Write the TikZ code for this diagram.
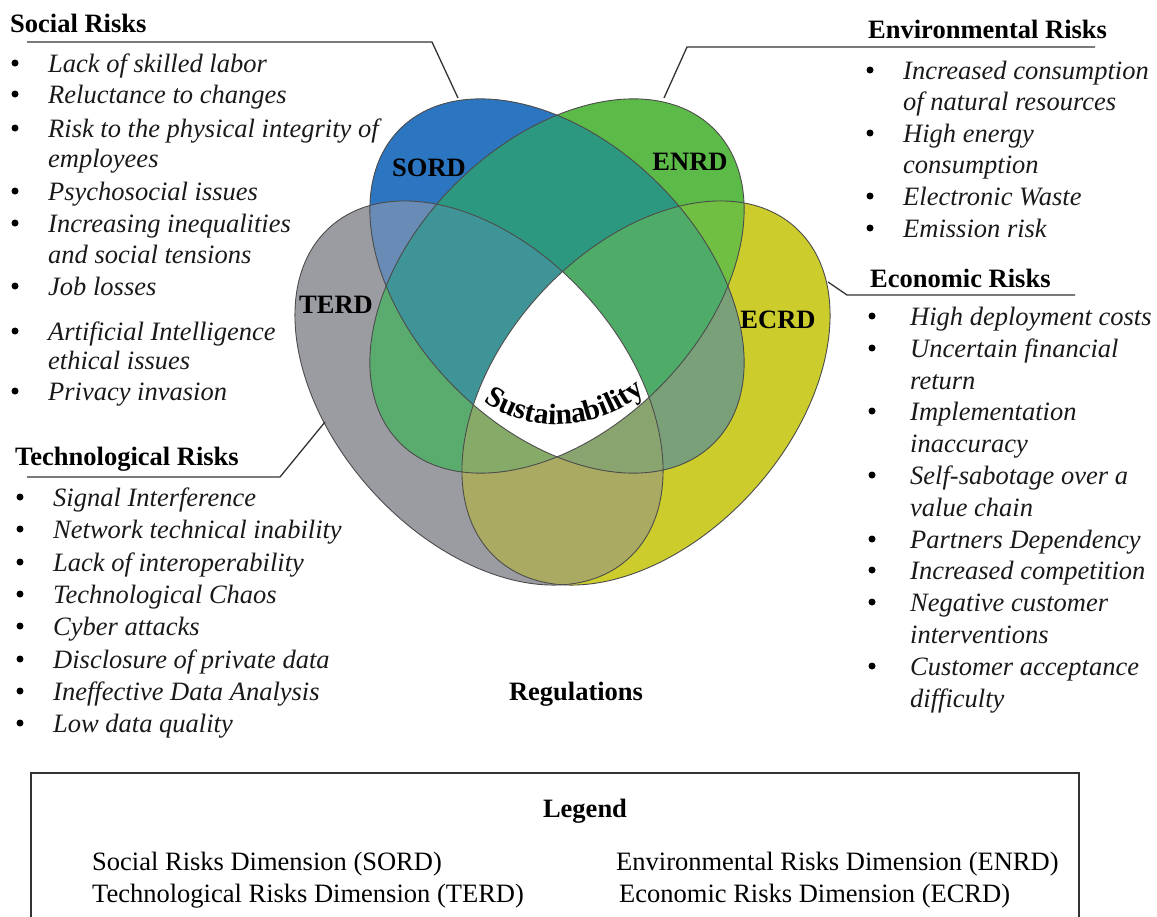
\documentclass[tikz,border=0pt]{standalone}
\usepackage{fontspec}
\setmainfont{Liberation Serif}
\usetikzlibrary{decorations.text}
\newcommand\fs{\fontsize{26.5}{31}\selectfont}
\definecolor{cS}{RGB}{44,117,192}
\definecolor{cE}{RGB}{92,186,72}
\definecolor{cT}{RGB}{155,156,161}
\definecolor{cC}{RGB}{204,204,44}
\definecolor{cSE}{RGB}{44,152,128}
\definecolor{cST}{RGB}{104,140,182}
\definecolor{cSC}{RGB}{122,160,122}
\definecolor{cTE}{RGB}{90,172,110}
\definecolor{cTC}{RGB}{170,170,98}
\definecolor{cEC}{RGB}{112,190,66}
\definecolor{cSTE}{RGB}{62,148,150}
\definecolor{cSEC}{RGB}{78,172,104}
\definecolor{cSTC}{RGB}{138,164,112}
\definecolor{cTEC}{RGB}{134,170,104}
\newcommand\ellS[1]{\path[#1,rotate around={-45:(557,286)}] (557,286) ellipse [x radius=222,y radius=144];}
\newcommand\ellE[1]{\path[#1,rotate around={45:(557,286)}] (557,286) ellipse [x radius=222,y radius=144];}
\newcommand\ellT[1]{\path[#1,rotate around={-48:(479,393)}] (479,393) ellipse [x radius=223,y radius=145];}
\newcommand\ellC[1]{\path[#1,rotate around={48:(646,393)}] (646,393) ellipse [x radius=223,y radius=145];}
\tikzset{
  item/.style={anchor=base west, inner sep=0pt, font=\fs\itshape, text=black!90},
  head/.style={anchor=base west, inner sep=0pt, font=\fs\bfseries},
  lbl/.style={inner sep=0pt, font=\fs\bfseries},
  legtext/.style={anchor=base west, inner sep=0pt, font=\fs},
  dot/.style={circle, fill=black, inner sep=0pt, minimum size=7pt},
  lead/.style={draw=black!80, line width=1.3pt},
  venn/.style={draw=black!70, line width=0.9pt}
}
\begin{document}
\begin{tikzpicture}[x=1pt,y=-1pt]
\useasboundingbox (0,0) rectangle (1157,916);
% ---- Venn fills ----
\ellT{fill=cT}
\ellC{fill=cC}
\ellS{fill=cS}
\ellE{fill=cE}
\begin{scope}\ellS{clip}\ellT{fill=cST}\end{scope}
\begin{scope}\ellS{clip}\ellE{fill=cSE}\end{scope}
\begin{scope}\ellS{clip}\ellC{fill=cSC}\end{scope}
\begin{scope}\ellT{clip}\ellE{fill=cTE}\end{scope}
\begin{scope}\ellT{clip}\ellC{fill=cTC}\end{scope}
\begin{scope}\ellE{clip}\ellC{fill=cEC}\end{scope}
\begin{scope}\ellS{clip}\ellT{clip}\ellE{fill=cSTE}\end{scope}
\begin{scope}\ellS{clip}\ellE{clip}\ellC{fill=cSEC}\end{scope}
\begin{scope}\ellS{clip}\ellT{clip}\ellC{fill=cSTC}\end{scope}
\begin{scope}\ellT{clip}\ellE{clip}\ellC{fill=cTEC}\end{scope}
\begin{scope}\ellS{clip}\ellT{clip}\ellE{clip}\ellC{fill=white}\end{scope}
\ellT{venn}
\ellC{venn}
\ellS{venn}
\ellE{venn}
% ---- Venn labels ----
\node[lbl] (sord) at (429,168) {SORD};
\node[lbl] (enrd) at (690,162) {ENRD};
\node[lbl] (terd) at (336,305) {TERD};
\node[lbl] (ecrd) at (778,320) {ECRD};
\path[decorate, decoration={text along path, text align=center,
  text={|\fontsize{29.5}{30}\selectfont\bfseries|Sustainability}}]
  (472,392) .. controls (523,438) and (603,436) .. (656,382);
\node[anchor=base, inner sep=0pt, font=\fs\bfseries] (reg) at (576,700) {Regulations};
% ---- Social ----
\node[head] (socH) at (10,32) {Social Risks};
\coordinate (socL) at (27,42);
\coordinate (socK) at (432,42);
\coordinate (socA) at (458,98);
\draw[lead] (socL) -- (socK) -- (socA);
\foreach \y/\t [count=\i] in {72/Lack of skilled labor,103/Reluctance to changes,137/Risk to the physical integrity of,200/Psychosocial issues,232/Increasing inequalities,295/Job losses,340/Artificial Intelligence,400/Privacy invasion}
  {\node[dot] (socD\i) at (15,\y-9) {}; \node[item] (socI\i) at (48,\y) {\t};}
\node[item] (socC1) at (48,167) {employees};
\node[item] (socC2) at (48,263) {and social tensions};
\node[item] (socC3) at (48,369) {ethical issues};
% ---- Technological ----
\node[head] (tecH) at (15,465) {Technological Risks};
\coordinate (tecL) at (27,477);
\coordinate (tecK) at (280,477);
\coordinate (tecA) at (325,422);
\draw[lead] (tecL) -- (tecK) -- (tecA);
\foreach \y/\t [count=\i] in {506/Signal Interference,538/Network technical inability,571/Lack of interoperability,603/Technological Chaos,635/Cyber attacks,668/Disclosure of private data,700/Ineffective Data Analysis,732/Low data quality}
  {\node[dot] (tecD\i) at (20,\y-9) {}; \node[item] (tecI\i) at (53,\y) {\t};}
% ---- Environmental ----
\node[head] (envH) at (868,38) {Environmental Risks};
\coordinate (envA) at (664,98);
\coordinate (envK) at (687,47);
\coordinate (envR) at (1095,47);
\draw[lead] (envA) -- (envK) -- (envR);
\foreach \y/\t [count=\i] in {79/Increased consumption,142/High energy,205/Electronic Waste,237/Emission risk}
  {\node[dot] (envD\i) at (870,\y-9) {}; \node[item] (envI\i) at (903,\y) {\t};}
\node[item] (envC1) at (903,110) {of natural resources};
\node[item] (envC2) at (903,173) {consumption};
% ---- Economic ----
\node[head] (ecoH) at (870,287) {Economic Risks};
\coordinate (ecoA) at (828,282);
\coordinate (ecoK) at (847,295);
\coordinate (ecoR) at (1075,295);
\draw[lead] (ecoA) -- (ecoK) -- (ecoR);
\foreach \y/\t [count=\i] in {325/High deployment costs,357/Uncertain financial,420/Implementation,484/Self-sabotage over a,548/Partners Dependency,579/Increased competition,611/Negative customer,675/Customer acceptance}
  {\node[dot] (ecoD\i) at (872,\y-9) {}; \node[item] (ecoI\i) at (910,\y) {\t};}
\node[item] (ecoC1) at (910,389) {return};
\node[item] (ecoC2) at (910,452) {inaccuracy};
\node[item] (ecoC3) at (910,516) {value chain};
\node[item] (ecoC4) at (910,643) {interventions};
\node[item] (ecoC5) at (910,707) {difficulty};
% ---- Legend ----
\draw[line width=1.5pt, draw=black!80] (31,940) -- (31,773) -- (1079,773) -- (1079,940);
\node[anchor=base, inner sep=0pt, font=\fs\bfseries] (legH) at (585,817) {Legend};
\node[legtext] (leg1) at (92,870) {Social Risks Dimension (SORD)};
\node[legtext] (leg2) at (92,902) {Technological Risks Dimension (TERD)};
\node[legtext] (leg3) at (616,870) {Environmental Risks Dimension (ENRD)};
\node[legtext] (leg4) at (619,902) {Economic Risks Dimension (ECRD)};
\end{tikzpicture}
\end{document}
